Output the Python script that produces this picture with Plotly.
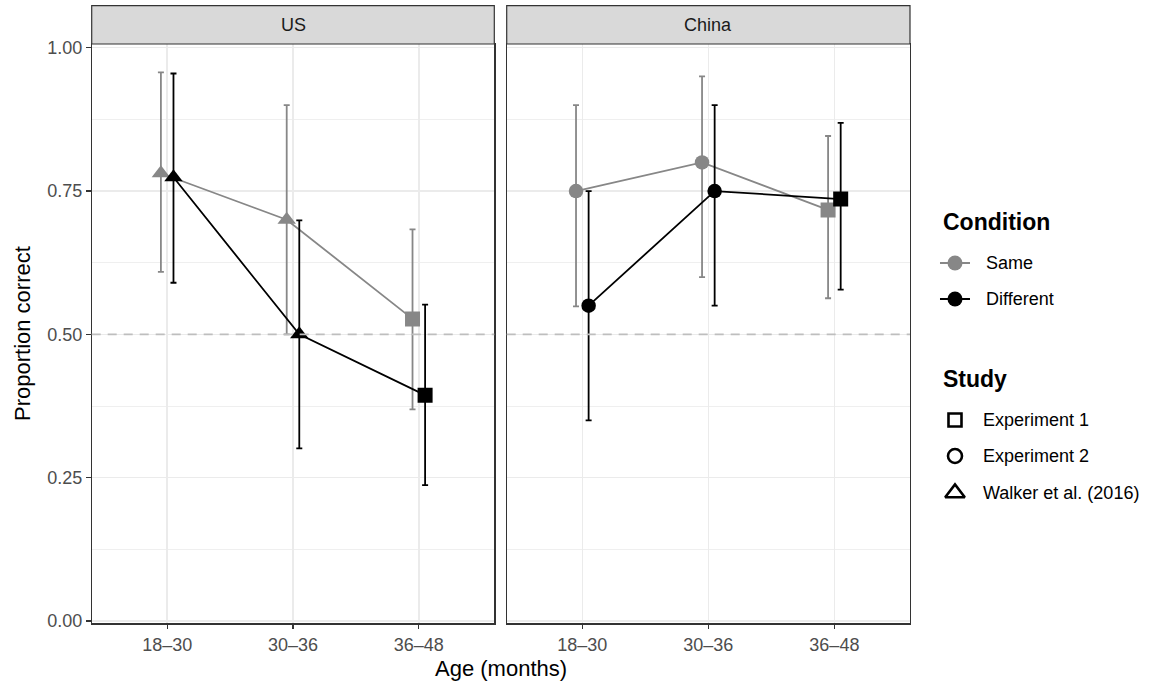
import plotly.graph_objects as go

# ---------------- data ----------------
ages = ["18–30", "30–36", "36–48"]
conditions = ["Same", "Different"]
studies = ["Experiment 1", "Experiment 2", "Walker et al. (2016)"]

us_study = ["Walker et al. (2016)", "Walker et al. (2016)", "Experiment 1"]
us_same = [0.781, 0.700, 0.527]
us_same_lo = [0.609, 0.500, 0.369]
us_same_hi = [0.957, 0.900, 0.683]
us_diff = [0.774, 0.500, 0.394]
us_diff_lo = [0.590, 0.301, 0.237]
us_diff_hi = [0.955, 0.699, 0.552]

cn_study = ["Experiment 2", "Experiment 2", "Experiment 1"]
cn_same = [0.750, 0.800, 0.717]
cn_same_lo = [0.549, 0.600, 0.563]
cn_same_hi = [0.900, 0.950, 0.846]
cn_diff = [0.550, 0.750, 0.736]
cn_diff_lo = [0.350, 0.550, 0.578]
cn_diff_hi = [0.750, 0.900, 0.869]

chance = 0.5

# ---------------- styling ----------------
FONT = "Liberation Sans, Arial, Helvetica, sans-serif"
GRAY = "#878787"
BLACK = "#000000"
cond_color = {"Same": GRAY, "Different": BLACK}
cond_dodge = {"Same": -0.05, "Different": 0.05}
study_symbol = {"Experiment 1": "square", "Experiment 2": "circle",
                "Walker et al. (2016)": "triangle-up"}
study_size = {"Experiment 1": 15, "Experiment 2": 14.5, "Walker et al. (2016)": 16}

W, H = 1153, 687
fig = go.Figure()

panels = [
    ("US", "x", "y", us_study,
     {"Same": (us_same, us_same_lo, us_same_hi), "Different": (us_diff, us_diff_lo, us_diff_hi)}),
    ("China", "x2", "y2", cn_study,
     {"Same": (cn_same, cn_same_lo, cn_same_hi), "Different": (cn_diff, cn_diff_lo, cn_diff_hi)}),
]

for name, xa, ya, stud, data in panels:
    for cond in conditions:
        vals, lo, hi = data[cond]
        xs = [i + cond_dodge[cond] for i in range(len(ages))]
        fig.add_trace(go.Scatter(
            x=xs, y=vals, xaxis=xa, yaxis=ya, mode="lines+markers",
            line=dict(color=cond_color[cond], width=1.8),
            marker=dict(color=cond_color[cond], opacity=1,
                        symbol=[study_symbol[s] for s in stud],
                        size=[study_size[s] for s in stud], line=dict(width=0)),
            error_y=dict(type="data", symmetric=False,
                         array=[h - v for h, v in zip(hi, vals)],
                         arrayminus=[v - l for v, l in zip(vals, lo)],
                         color=cond_color[cond], thickness=1.8, width=3),
            showlegend=False, hoverinfo="skip"))

# ---------------- axes ----------------
px_x = lambda p: p / W
px_y = lambda p: 1 - p / H
y_dom = [px_y(623.3), px_y(44)]
x1_dom = [px_x(91.7), px_x(494.3)]
x2_dom = [px_x(506.7), px_x(910)]

common_x = dict(range=[-0.6, 2.6], tickvals=list(range(len(ages))), ticktext=ages,
                showgrid=True, gridcolor="#EBEBEB", gridwidth=1.5, zeroline=False,
                showline=True, linecolor="#333333", linewidth=1.2, mirror=True,
                ticks="outside", ticklen=4.5, tickcolor="#333333", tickwidth=1.2,
                tickfont=dict(family=FONT, size=18, color="#4D4D4D"), fixedrange=True,
                automargin=False)
common_y = dict(range=[-0.004, 1.0065], tickvals=[0, 0.25, 0.5, 0.75, 1.0], tickformat=".2f",
                showgrid=True, gridcolor="#EBEBEB", gridwidth=1.5, zeroline=False,
                minor=dict(tick0=0.125, dtick=0.25, showgrid=True, gridcolor="#EBEBEB", gridwidth=0.8, ticks=""),
                showline=True, linecolor="#333333", linewidth=1.2, mirror=True,
                tickfont=dict(family=FONT, size=18, color="#4D4D4D"), fixedrange=True,
                automargin=False)

fig.update_layout(
    xaxis=dict(domain=x1_dom, anchor="y", **common_x),
    xaxis2=dict(domain=x2_dom, anchor="y2", **common_x),
    yaxis=dict(domain=y_dom, anchor="x", ticks="outside", ticklen=4.5, tickcolor="#333333",
               tickwidth=1.2, **common_y),
    yaxis2=dict(domain=y_dom, anchor="x2", ticks="", showticklabels=False, **common_y),
    # legend axis (pixel coordinates)
    xaxis3=dict(domain=[0.805, 1.0], range=[0.805 * W, W], visible=False, anchor="y3",
                fixedrange=True, automargin=False),
    yaxis3=dict(domain=[0, 1], range=[H, 0], visible=False, anchor="x3",
                fixedrange=True, automargin=False),
)

shapes = []
annotations = []
for name, xa, ya, _, _ in panels:
    xd = xa + " domain"
    shapes.append(dict(type="line", xref=xd, yref=ya, x0=0, x1=1, y0=chance, y1=chance,
                       line=dict(color="#BEBEBE", width=1.6, dash="9px,7px"), layer="above"))
    shapes.append(dict(type="rect", xref=xd, yref="paper", x0=0, x1=1,
                       y0=px_y(44), y1=px_y(5.7), fillcolor="#D9D9D9",
                       line=dict(color="#333333", width=1.2), layer="above"))
    annotations.append(dict(text=name, xref=xd, yref="paper", x=0.5, y=px_y(25),
                            showarrow=False, xanchor="center", yanchor="middle",
                            font=dict(family=FONT, size=18, color="#1A1A1A")))

annotations.append(dict(text="Age (months)", xref="paper", yref="paper",
                        x=px_x(501), y=px_y(668), showarrow=False,
                        xanchor="center", yanchor="middle",
                        font=dict(family=FONT, size=22, color="#000000")))
annotations.append(dict(text="Proportion correct", xref="paper", yref="paper",
                        x=px_x(23), y=px_y(334), showarrow=False, textangle=-90,
                        xanchor="center", yanchor="middle",
                        font=dict(family=FONT, size=22, color="#000000")))

# ---------------- manual legend ----------------
leg_title_font = dict(family=FONT, size=23, color="#000000")
leg_text_font = dict(family=FONT, size=18, color="#000000")
annotations.append(dict(text="<b>Condition</b>", xref="x3", yref="y3", x=941, y=222,
                        showarrow=False, xanchor="left", yanchor="middle", font=leg_title_font))
cond_rows = {"Same": 263, "Different": 299}
for cond in conditions:
    yy = cond_rows[cond]
    fig.add_trace(go.Scatter(x=[940, 955, 970], y=[yy, yy, yy], xaxis="x3", yaxis="y3",
                             mode="lines", line=dict(color=cond_color[cond], width=1.8),
                             showlegend=False, hoverinfo="skip"))
    fig.add_trace(go.Scatter(x=[955], y=[yy], xaxis="x3", yaxis="y3", mode="markers",
                             marker=dict(color=cond_color[cond], size=15, symbol="circle"),
                             showlegend=False, hoverinfo="skip"))
    annotations.append(dict(text=cond, xref="x3", yref="y3", x=984, y=yy, showarrow=False,
                            xanchor="left", yanchor="middle", font=leg_text_font))

annotations.append(dict(text="<b>Study</b>", xref="x3", yref="y3", x=941, y=379,
                        showarrow=False, xanchor="left", yanchor="middle", font=leg_title_font))
study_rows = {"Experiment 1": 420, "Experiment 2": 456, "Walker et al. (2016)": 493}
legend_sym_size = {"Experiment 1": 13, "Experiment 2": 14, "Walker et al. (2016)": 17}
for s in studies:
    yy = study_rows[s]
    fig.add_trace(go.Scatter(x=[955], y=[yy], xaxis="x3", yaxis="y3", mode="markers",
                             marker=dict(color=BLACK, size=legend_sym_size[s],
                                         symbol=study_symbol[s] + "-open",
                                         line=dict(color=BLACK, width=2.6)),
                             showlegend=False, hoverinfo="skip"))
    annotations.append(dict(text=s, xref="x3", yref="y3", x=981, y=yy, showarrow=False,
                            xanchor="left", yanchor="middle", font=leg_text_font))

fig.update_layout(
    width=W, height=H, margin=dict(l=0, r=0, t=0, b=0, pad=0, autoexpand=False),
    paper_bgcolor="white", plot_bgcolor="white",
    shapes=shapes, annotations=annotations, showlegend=False,
    font=dict(family=FONT),
)

fig.write_html(
    "out.html",
    config={"displayModeBar": False, "staticPlot": True},
    post_script="document.body.style.margin='0px';document.body.style.overflow='hidden';",
)
